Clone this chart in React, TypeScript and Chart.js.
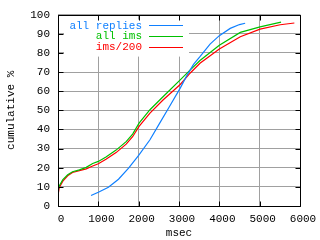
import React, { useEffect, useRef } from "react";
import { Chart, registerables } from "chart.js";

Chart.register(...registerables);

const xTicks = [0, 1000, 2000, 3000, 4000, 5000, 6000];
const yTicks = [0, 10, 20, 30, 40, 50, 60, 70, 80, 90, 100];
const xTitle = "msec";
const yTitle = "cumulative %";
const seriesNames = ["all replies", "all ims", "ims/200"];

const repliesMs = [819, 1000, 1250, 1500, 1750, 2000, 2280, 2500, 2750, 3030, 3190, 3360, 3520, 3770, 4000, 4270, 4500, 4640];
const repliesPct = [5.5, 7.2, 9.8, 14.0, 19.8, 26.5, 34.6, 42.5, 51.5, 61.6, 68.0, 74.0, 78.0, 84.6, 89.0, 92.8, 94.8, 95.5];

const imsMs = [0, 30, 120, 240, 360, 530, 700, 860, 1000, 1190, 1440, 1690, 1850, 2010, 2280, 2610, 3030, 3280, 3520, 4000, 4520, 5010, 5530];
const imsPct = [7.5, 10.5, 13.8, 16.3, 17.9, 18.9, 20.2, 22.2, 23.3, 25.6, 29.2, 33.6, 37.6, 43.3, 50.3, 57.2, 65.9, 71.1, 76.0, 84.0, 90.7, 93.6, 96.1];

const ims200Ms = [0, 30, 120, 240, 360, 530, 700, 860, 1000, 1190, 1440, 1690, 1850, 2010, 2280, 2610, 3030, 3280, 3520, 4000, 4520, 5010, 5510, 5860];
const ims200Pct = [5.5, 9.5, 13.0, 15.8, 17.5, 18.5, 19.4, 20.9, 22.1, 24.4, 27.9, 32.3, 36.2, 41.6, 48.5, 55.5, 63.5, 69.5, 74.6, 82.0, 88.4, 92.4, 94.7, 95.6];

const COLORS = ["#1080ff", "#00c000", "#ff0000"];
const FONT = "'Liberation Mono', 'DejaVu Sans Mono', monospace";

const toPoints = (xs: number[], ys: number[]) => xs.map((x, i) => ({ x, y: ys[i] }));

const framePlugin = {
  id: "gnuframe",
  beforeDatasetsDraw(chart: any) {
    const { ctx, chartArea } = chart;
    ctx.save();
    ctx.fillStyle = "#ffffff";
    ctx.fillRect(chartArea.left + 6, chartArea.top + 5, 125, 37);
    ctx.restore();
  },
  afterDraw(chart: any) {
    const { ctx, chartArea, scales } = chart;
    const { left, right, top, bottom } = chartArea;
    const L = Math.round(left) + 0.5;
    const R = Math.round(right) + 0.5;
    const T = Math.round(top) + 0.5;
    const B = Math.round(bottom) + 0.5;
    ctx.save();
    ctx.strokeStyle = "#000";
    ctx.lineWidth = 1;
    ctx.beginPath();
    ctx.rect(L, T, R - L, B - T);
    xTicks.forEach((v) => {
      const px = Math.round(scales.x.getPixelForValue(v)) + 0.5;
      ctx.moveTo(px, B);
      ctx.lineTo(px, B - 5);
      ctx.moveTo(px, T);
      ctx.lineTo(px, T + 5);
    });
    yTicks.forEach((v) => {
      const py = Math.round(scales.y.getPixelForValue(v)) + 0.5;
      ctx.moveTo(L, py);
      ctx.lineTo(L + 5, py);
      ctx.moveTo(R, py);
      ctx.lineTo(R - 5, py);
    });
    ctx.stroke();

    // legend
    ctx.font = `11px ${FONT}`;
    ctx.textAlign = "right";
    ctx.textBaseline = "middle";
    seriesNames.forEach((name, i) => {
      const y = top + 10.5 + i * 10.8;
      ctx.fillStyle = COLORS[i];
      ctx.fillText(name, left + 84, y + 0.5);
      ctx.strokeStyle = COLORS[i];
      ctx.beginPath();
      ctx.moveTo(left + 91, Math.round(y) + 0.5);
      ctx.lineTo(left + 125, Math.round(y) + 0.5);
      ctx.stroke();
    });
    ctx.restore();
  },
};

export default function App() {
  const ref = useRef<HTMLCanvasElement | null>(null);
  useEffect(() => {
    if (!ref.current) return;
    const chart = new Chart(ref.current, {
      type: "scatter",
      data: {
        datasets: [
          { label: seriesNames[0], data: toPoints(repliesMs, repliesPct) },
          { label: seriesNames[1], data: toPoints(imsMs, imsPct) },
          { label: seriesNames[2], data: toPoints(ims200Ms, ims200Pct) },
        ].map((d, i) => ({
          ...d,
          showLine: true,
          borderColor: COLORS[i],
          backgroundColor: COLORS[i],
          borderWidth: 1.2,
          pointRadius: 0,
          tension: 0,
        })),
      },
      options: {
        responsive: false,
        animation: false,
        events: [],
        layout: { padding: { top: 14, right: 20, left: 0, bottom: 0 } },
        plugins: { legend: { display: false }, tooltip: { enabled: false } },
        font: { family: FONT, size: 11 },
        scales: {
          x: {
            type: "linear",
            min: 0,
            max: 6000,
            afterBuildTicks: (s: any) => {
              s.ticks = xTicks.map((v) => ({ value: v }));
            },
            afterFit: (s: any) => {
              s.height = 34;
            },
            grid: { color: "#a0a0a0", drawTicks: false },
            border: { display: false },
            ticks: {
              color: "#000",
              padding: 6,
              labelOffset: 3,
              maxRotation: 0,
              font: { family: FONT, size: 11 },
              callback: (v: any) => String(v),
            },
            title: {
              display: true,
              text: xTitle,
              color: "#000",
              font: { family: FONT, size: 11 },
              padding: { top: 0, bottom: 0 },
            },
          },
          y: {
            type: "linear",
            min: 0,
            max: 100,
            afterBuildTicks: (s: any) => {
              s.ticks = yTicks.map((v) => ({ value: v }));
            },
            afterFit: (s: any) => {
              s.width = 58;
            },
            grid: { color: "#a0a0a0", drawTicks: false },
            border: { display: false },
            ticks: {
              color: "#000",
              padding: 8,
              font: { family: FONT, size: 11 },
              callback: (v: any) => String(v),
            },
            title: {
              display: true,
              text: yTitle,
              color: "#000",
              font: { family: FONT, size: 11 },
              padding: { top: 4, bottom: 0 },
            },
          },
        },
      },
      plugins: [framePlugin],
    });
    return () => chart.destroy();
  }, []);
  return (
    <div style={{ position: "fixed", left: 0, top: 0, width: 320, height: 240, background: "#fff" }}>
      <canvas ref={ref} width={320} height={240} style={{ display: "block" }} />
    </div>
  );
}
